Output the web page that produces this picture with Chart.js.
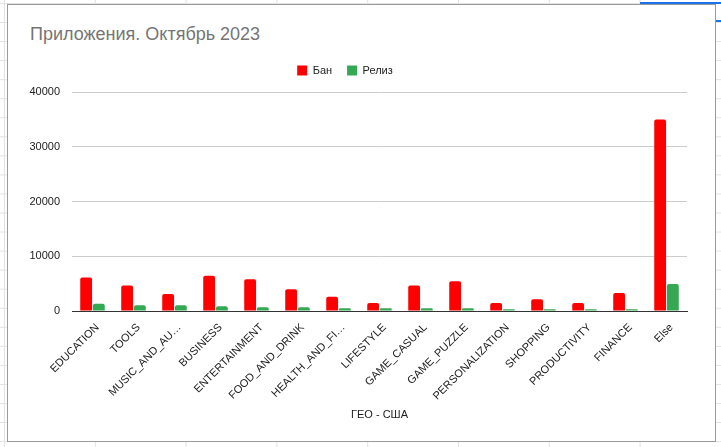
<!DOCTYPE html>
<html>
<head>
<meta charset="utf-8">
<script src="https://cdn.jsdelivr.net/npm/chart.js@4"></script>
<style>
    html, body { margin: 0; padding: 0; }
    body {
        width: 721px; height: 447px; overflow: hidden; position: relative;
        background-color: #fff;
        background-image:
            linear-gradient(to right, #e2e2e2 1px, transparent 1px),
            linear-gradient(to bottom, #e2e2e2 1px, transparent 1px);
        background-size: 90.8px 19.05px;
        background-position: 4px 3px;
        font-family: "Liberation Sans", Arial, sans-serif;
    }
    .sel-top { position: absolute; left: 640px; top: 2px; width: 81px; height: 2px; background: #1a73e8; }
    .sel-side { position: absolute; left: 716px; top: 20px; width: 5px; height: 2px; background: #1a73e8; }
    .frame {
        position: absolute; left: 7px; top: 4px; width: 707px; height: 436px;
        border: 1.5px solid #9a9a9a; background: #fff;
    }
    .title {
        position: absolute; left: 30px; top: 25px; font-size: 18px; line-height: 18px;
        color: #757575; white-space: nowrap;
    }
    #chart { position: absolute; left: 3px; top: 4px; }
</style>
</head>
<body>
<div class="sel-top"></div>
<div class="sel-side"></div>
<div class="frame"></div>
<div class="title">Приложения. Октябрь 2023</div>
<canvas id="chart" width="713" height="438"></canvas>
<script>
// data
const categories = ['EDUCATION', 'TOOLS', 'MUSIC_AND_AU…', 'BUSINESS', 'ENTERTAINMENT', 'FOOD_AND_DRINK',
    'HEALTH_AND_FI…', 'LIFESTYLE', 'GAME_CASUAL', 'GAME_PUZZLE', 'PERSONALIZATION', 'SHOPPING',
    'PRODUCTIVITY', 'FINANCE', 'Else'];
const banValues = [6110, 4640, 3120, 6420, 5820, 3980, 2620, 1470, 4640, 5450, 1470, 2150, 1470, 3300, 35000];
const releaseValues = [1340, 1050, 1050, 860, 680, 680, 500, 500, 500, 500, 310, 310, 310, 310, 4950];
const yTicks = [0, 10000, 20000, 30000, 40000];

Chart.defaults.font.family = '"Liberation Sans", Arial, sans-serif';
Chart.defaults.font.size = 11;
Chart.defaults.color = '#222';

// push the plot a bit below the legend
const legendGap = {
    id: 'legendGap',
    beforeInit(chart) {
        const fit = chart.legend.fit;
        chart.legend.fit = function () {
            fit.bind(chart.legend)();
            this.height += 6;
        };
    }
};

new Chart(document.getElementById('chart').getContext('2d'), {
    type: 'bar',
    data: {
        labels: categories,
        datasets: [
            { label: 'Бан', data: banValues, backgroundColor: '#ff0000', borderRadius: { topLeft: 2, topRight: 2 } },
            { label: 'Релиз', data: releaseValues, backgroundColor: '#34a853', borderRadius: { topLeft: 2, topRight: 2 } }
        ]
    },
    options: {
        responsive: false,
        animation: false,
        layout: { padding: { top: 46, left: 0, right: 29, bottom: 16 } },
        categoryPercentage: 0.62,
        barPercentage: 0.93,
        plugins: {
            tooltip: { enabled: false },
            legend: {
                position: 'top',
                labels: { boxWidth: 10, boxHeight: 10, padding: 15, color: '#222' }
            }
        },
        scales: {
            x: {
                grid: { display: false },
                border: { color: '#333', width: 1 },
                ticks: { autoSkip: false, minRotation: 45, maxRotation: 45, color: '#222', padding: 2, labelOffset: 5 },
                title: { display: true, text: 'ГЕО - США', color: '#222', padding: { top: 4, bottom: 4 } },
                afterFit(scale) { scale.height = 115; }
            },
            y: {
                min: 0,
                max: 40000,
                afterBuildTicks(scale) { scale.ticks = yTicks.map(v => ({ value: v })); },
                grid: {
                    color: ctx => ctx.tick && ctx.tick.value === 0 ? '#333' : '#cccccc',
                    drawTicks: false
                },
                border: { display: false },
                ticks: { color: '#222', padding: 12, callback: v => String(v) },
                afterFit(scale) { scale.width = 69; }
            }
        }
    },
    plugins: [legendGap]
});
</script>
</body>
</html>
